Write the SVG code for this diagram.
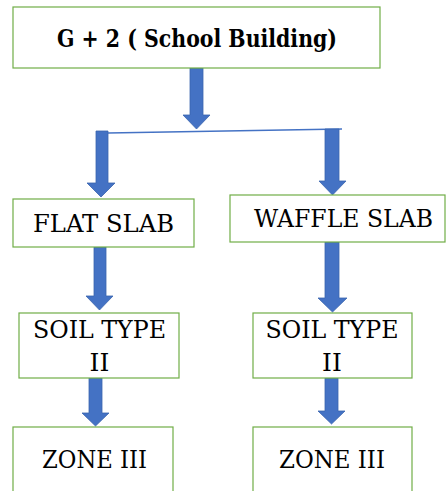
<svg xmlns="http://www.w3.org/2000/svg" width="446" height="491" viewBox="0 0 446 491">
<style>
.box{fill:#fff;stroke:#70AD47;stroke-width:1.2}
.t{font-family:'DejaVu Serif','Liberation Serif',serif;font-size:25px;fill:#000;text-anchor:middle}
.b{font-weight:bold;font-size:25px}
.arr{fill:#4472C4;stroke:#3A64AE;stroke-width:0.8}
</style>
<rect width="446" height="491" fill="#fff"/>
<g id="connectors">
<polygon class="arr" points="190,68 203,68 203,115 210,115 196.5,129 183,115 190,115"/>
<path d="M108,133 L342,129" stroke="#4472C4" stroke-width="1.3" fill="none"/>
<polygon class="arr" points="96,131 108,131 108,183 115,183 101,197 87,183 96,183"/>
<polygon class="arr" points="325,129 339,129 339,181 346,181 332.5,195 319,181 325,181"/>
<polygon class="arr" points="94,247 106,247 106,296 113,296 99.5,310 86,296 94,296"/>
<polygon class="arr" points="325,242 339,242 339,298 347,298 332.5,312 318,298 325,298"/>
<polygon class="arr" points="89,378 102,378 102,413 109,413 95.5,426 82,413 89,413"/>
<polygon class="arr" points="325,378 338,378 338,411 345,411 331.5,424 318,411 325,411"/>
</g>
<g id="n-top"><rect class="box" x="13" y="7" width="367" height="61"/><text class="t b" x="197" y="47" textLength="280" lengthAdjust="spacingAndGlyphs">G + 2 ( School Building)</text></g>
<g id="n-flat"><rect class="box" x="13" y="199" width="181" height="48"/><text class="t" x="103.5" y="232" textLength="141" lengthAdjust="spacingAndGlyphs">FLAT SLAB</text></g>
<g id="n-waffle"><rect class="box" x="230" y="195" width="215" height="47"/><text class="t" x="343.5" y="227" textLength="179" lengthAdjust="spacingAndGlyphs">WAFFLE SLAB</text></g>
<g id="n-soil1"><rect class="box" x="19" y="313" width="160" height="65"/><text class="t" x="99.5" y="338" textLength="133" lengthAdjust="spacingAndGlyphs">SOIL TYPE</text><text class="t" x="99.5" y="371">II</text></g>
<g id="n-soil2"><rect class="box" x="253" y="313" width="159" height="65"/><text class="t" x="332" y="338" textLength="133" lengthAdjust="spacingAndGlyphs">SOIL TYPE</text><text class="t" x="332" y="371">II</text></g>
<g id="n-zone1"><rect class="box" x="13" y="427" width="160" height="70"/><text class="t" x="94.5" y="468" textLength="105" lengthAdjust="spacingAndGlyphs">ZONE III</text></g>
<g id="n-zone2"><rect class="box" x="253" y="427" width="159" height="70"/><text class="t" x="332" y="468" textLength="106" lengthAdjust="spacingAndGlyphs">ZONE III</text></g>
</svg>
